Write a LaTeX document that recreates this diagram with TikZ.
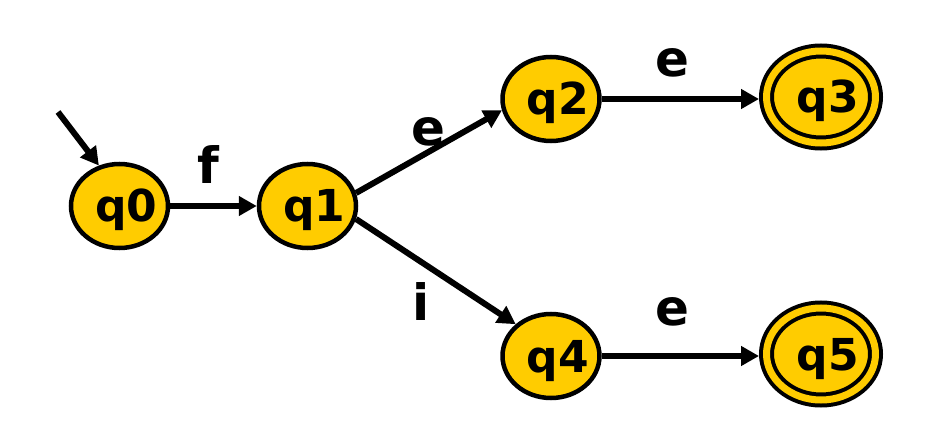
\documentclass[tikz,border=0pt]{standalone}
\usepackage{fontspec}
\setmainfont{DejaVu Sans}
\usetikzlibrary{shapes.geometric,arrows.meta}
\definecolor{stategold}{RGB}{255,204,0}
\newcommand{\stxt}[1]{\makebox[0pt]{\hspace*{14pt}#1}}
\tikzset{
  state/.style={ellipse, draw=black, fill=stategold, line width=4.5pt,
    minimum width=97pt, minimum height=84pt, inner sep=0pt, outer sep=2.25pt,
    font=\bfseries\fontsize{44}{44}\selectfont, text height=32pt, text depth=0pt},
  accept/.style={state, line width=4pt, double=stategold, double distance=7pt,
    minimum width=109pt, minimum height=92pt, outer sep=7.5pt},
  trans/.style={line width=6pt, -{Triangle[length=18pt,width=19pt]}},
  lbl/.style={font=\bfseries\fontsize{50}{50}\selectfont, inner sep=0pt}
}
\begin{document}
\begin{tikzpicture}[x=1pt,y=-1pt]
\useasboundingbox (0,0) rectangle (935,433);
\node[state]  (q0) at (119.5,206) {\stxt{q0}};
\node[state]  (q1) at (307.5,206) {\stxt{q1}};
\node[state]  (q2) at (551,99)    {\stxt{q2}};
\node[accept] (q3) at (821,97)    {\stxt{q3}};
\node[state]  (q4) at (551,356)   {\stxt{q4}};
\node[accept] (q5) at (821,354)   {\stxt{q5}};
\coordinate (s) at (58,112);
\draw[trans] (s) -- (q0.117);
\draw[trans] (q0) -- (q1);
\draw[trans] (q1.15) -- (q2.193);
\draw[trans] (q1.345) -- (q4.138);
\draw[trans] (q2.east) -- (q3.west |- q2.east);
\draw[trans] (q4.east) -- (q5.west |- q4.east);
\node[lbl] (lf)  at (208,165) {f};
\node[lbl] (le1) at (428,132) {e};
\node[lbl] (le2) at (672,63)  {e};
\node[lbl] (li)  at (421,302) {i};
\node[lbl] (le3) at (672,312) {e};
\end{tikzpicture}
\end{document}
